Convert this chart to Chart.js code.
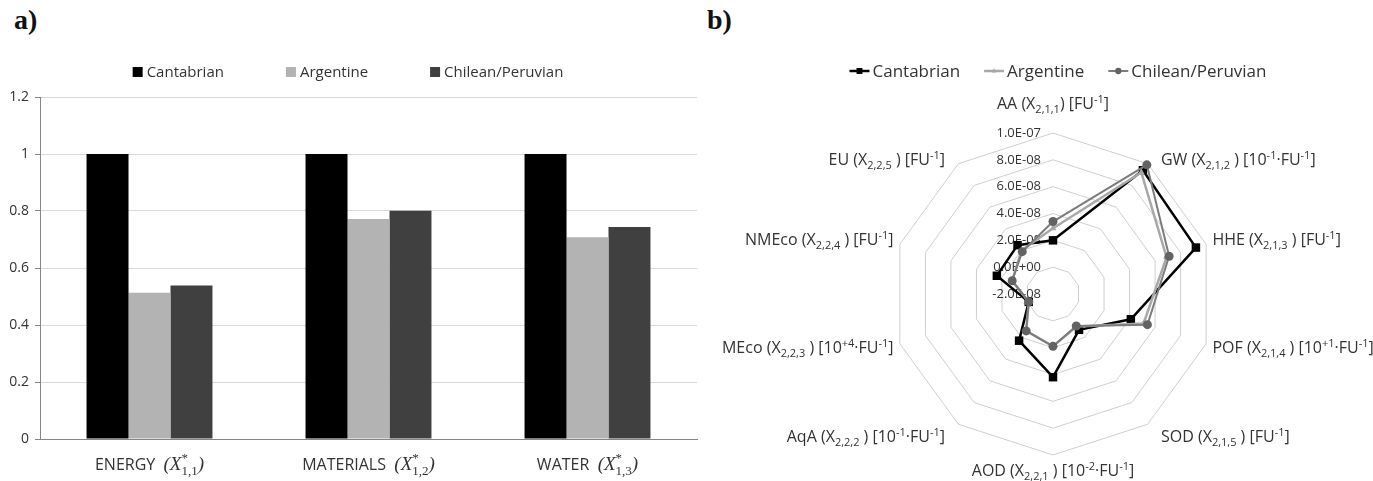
<!DOCTYPE html>
<html>
<head>
<meta charset="utf-8">
<script src="https://cdn.jsdelivr.net/npm/chart.js@4.4.0/dist/chart.umd.min.js"></script>
<style>
  html, body { margin: 0; padding: 0; background: #fff; }
  body { width: 1373px; height: 481px; position: relative; overflow: hidden; }
  canvas { position: absolute; top: 0; }
  #barChart { left: 0; }
  #radarChart { left: 700px; }
  .panel { position: absolute; top: 4px; font: bold 28px "Liberation Serif", serif; color: #111; }
</style>
</head>
<body>
<div class="panel" style="left:14px">a)</div>
<div class="panel" style="left:707px">b)</div>
<canvas id="barChart" width="700" height="481"></canvas>
<canvas id="radarChart" width="673" height="481"></canvas>
<script>
const seriesNames = ['Cantabrian', 'Argentine', 'Chilean/Peruvian'];

// a) normalised indicators
const barCategories = ['ENERGY', 'MATERIALS', 'WATER'];
const barSymbols = ['(X^{*}_{1,1})', '(X^{*}_{1,2})', '(X^{*}_{1,3})'];
const cantabrianBars = [1, 1, 1];
const argentineBars = [0.513, 0.772, 0.708];
const chileanBars = [0.539, 0.801, 0.744];
const barTicks = [0, 0.2, 0.4, 0.6, 0.8, 1, 1.2];

// b) impact categories
const radarAxes = [
  'AA (X_{2,1,1}) [FU^{-1}]',
  'GW (X_{2,1,2} ) [10^{-1}·FU^{-1}]',
  'HHE (X_{2,1,3} ) [FU^{-1}]',
  'POF (X_{2,1,4} ) [10^{+1}·FU^{-1}]',
  'SOD (X_{2,1,5} ) [FU^{-1}]',
  'AOD (X_{2,2,1} ) [10^{-2}·FU^{-1}]',
  'AqA (X_{2,2,2} ) [10^{-1}·FU^{-1}]',
  'MEco (X_{2,2,3} ) [10^{+4}·FU^{-1}]',
  'NMEco (X_{2,2,4} ) [FU^{-1}]',
  'EU (X_{2,2,5} ) [FU^{-1}]'
];
const cantabrianRadar = [2.0e-8, 9.4e-8, 9.2e-8, 4.1e-8, 1.3e-8, 4.2e-8, 2.3e-8, -0.1e-8, 2.4e-8, 2.5e-8];
const argentineRadar = [2.9e-8, 9.2e-8, 6.9e-8, 5.1e-8, 1.0e-8, 1.9e-8, 1.4e-8, -0.1e-8, 1.2e-8, 2.0e-8];
const chileanRadar = [3.4e-8, 9.9e-8, 7.1e-8, 5.4e-8, 0.95e-8, 1.9e-8, 1.4e-8, -0.1e-8, 1.2e-8, 1.9e-8];
const radarTicks = [-2e-8, 0, 2e-8, 4e-8, 6e-8, 8e-8, 1e-7];

const TEXT = '#333333';
Chart.defaults.font.family = '"Open Sans", sans-serif';

// tiny markup: _{..} subscript, ^{..} superscript
function parseRich(str) {
  const out = [];
  const re = /([_^])\{([^}]*)\}|([^_^]+)/g;
  let m;
  while ((m = re.exec(str))) {
    if (m[3]) out.push({ t: m[3], k: 'n' });
    else out.push({ t: m[2], k: m[1] === '_' ? 'sub' : 'sup' });
  }
  return out;
}

function renderRich(ctx, parts, x, y, f, draw) {
  let cx = x, stackX = x, stackW = 0;
  parts.forEach((p, i) => {
    ctx.font = p.k === 'n' ? f.main : f.small;
    const w = ctx.measureText(p.t).width;
    const stacked = p.k === 'sub' && i > 0 && parts[i - 1].k === 'sup';
    const sx = stacked ? stackX : cx;
    const dy = p.k === 'sub' ? f.subShift : p.k === 'sup' ? -f.supShift : 0;
    if (draw) ctx.fillText(p.t, sx, y + dy);
    if (p.k === 'sup') { stackX = cx; stackW = w; cx += w; }
    else if (stacked) cx = stackX + Math.max(stackW, w);
    else cx += w;
  });
  return cx - x;
}

function sci(v) {
  if (Math.abs(v) < 1e-15) v = 0;
  const [m, e] = v.toExponential(1).split('e');
  const n = parseInt(e, 10);
  return m + 'E' + (n < 0 ? '-' : '+') + String(Math.abs(n)).padStart(2, '0');
}

const sheetLegend = {
  id: 'sheetLegend',
  afterDraw(chart, args, opts) {
    const ctx = chart.ctx;
    const sets = chart.data.datasets;
    ctx.save();
    ctx.font = opts.font;
    ctx.textBaseline = 'middle';
    ctx.textAlign = 'left';
    const widths = sets.map(ds => ctx.measureText(ds.label).width);
    const total = widths.reduce((s, w) => s + opts.symbolWidth + opts.symbolGap + w, 0) + opts.itemGap * (sets.length - 1);
    let x = opts.centerX - total / 2;
    sets.forEach((ds, i) => {
      if (opts.symbol === 'box') {
        ctx.fillStyle = ds.backgroundColor;
        ctx.fillRect(x, opts.y - opts.symbolWidth / 2, opts.symbolWidth, opts.symbolWidth);
      } else {
        ctx.strokeStyle = ds.borderColor;
        ctx.lineWidth = ds.borderWidth;
        ctx.beginPath();
        ctx.moveTo(x, opts.y);
        ctx.lineTo(x + opts.symbolWidth, opts.y);
        ctx.stroke();
        ctx.fillStyle = ds.pointBackgroundColor;
        Chart.helpers.drawPoint(ctx, { pointStyle: ds.pointStyle, radius: ds.pointRadius * 0.7, rotation: 0, borderWidth: 0 },
          x + opts.symbolWidth / 2, opts.y);
      }
      x += opts.symbolWidth + opts.symbolGap;
      ctx.fillStyle = opts.color;
      ctx.fillText(ds.label, x, opts.y + 1);
      x += widths[i] + opts.itemGap;
    });
    ctx.restore();
  }
};

const barAxisLabels = {
  id: 'barAxisLabels',
  afterDraw(chart) {
    const ctx = chart.ctx;
    const xs = chart.scales.x;
    const mathFonts = { main: 'italic 19px "Liberation Serif"', small: '13px "Liberation Serif"', subShift: 5, supShift: 8 };
    ctx.save();
    ctx.textBaseline = 'alphabetic';
    ctx.textAlign = 'left';
    ctx.fillStyle = TEXT;
    barCategories.forEach((name, i) => {
      const cx = xs.getPixelForValue(i);
      ctx.font = '16px "Open Sans"';
      const head = name + '  ';
      const headW = ctx.measureText(head).width;
      const parts = parseRich(barSymbols[i]);
      const symW = renderRich(ctx, parts, 0, 0, mathFonts, false);
      const x = cx - (headW + symW) / 2;
      ctx.font = '16px "Open Sans"';
      ctx.fillText(head, x, 470);
      renderRich(ctx, parts, x + headW, 470, mathFonts, true);
    });
    ctx.restore();
  }
};

const radarText = {
  id: 'radarText',
  beforeDatasetsDraw(chart) {
    const ctx = chart.ctx;
    const r = chart.scales.r;
    ctx.save();
    ctx.font = '13px "Open Sans"';
    ctx.fillStyle = TEXT;
    ctx.textAlign = 'right';
    ctx.textBaseline = 'middle';
    r.ticks.forEach(t => {
      const y = r.yCenter - r.getDistanceFromCenterForValue(t.value);
      ctx.fillText(sci(t.value), r.xCenter - 12, y);
    });
    ctx.restore();
  },
  afterDraw(chart) {
    const ctx = chart.ctx;
    const r = chart.scales.r;
    const fonts = { main: '16px "Open Sans"', small: '11px "Open Sans"', subShift: 4, supShift: 6 };
    ctx.save();
    ctx.fillStyle = TEXT;
    ctx.textAlign = 'left';
    ctx.textBaseline = 'alphabetic';
    chart.data.labels.forEach((lab, i) => {
      const a = r.getIndexAngle(i);
      const s = Math.sin(a), c = Math.cos(a);
      const R = r.drawingArea;
      const vx = r.xCenter + s * R, vy = r.yCenter - c * R;
      const parts = parseRich(lab);
      const w = renderRich(ctx, parts, 0, 0, fonts, false);
      let x, y;
      if (Math.abs(s) < 0.01) {
        x = vx - w / 2;
        y = c > 0 ? vy - 29 : vy + 16;
      } else {
        const gap = 2 + 14 * Math.abs(c);
        x = s > 0 ? vx + gap : vx - gap - w;
        y = c > 0 ? vy - 4 : vy - c * 17 - 1;
      }
      renderRich(ctx, parts, x, y + 5, fonts, true);
    });
    ctx.restore();
  }
};

new Chart(document.getElementById('barChart'), {
  type: 'bar',
  data: {
    labels: barCategories,
    datasets: [
      { label: seriesNames[0], data: cantabrianBars, backgroundColor: '#000000' },
      { label: seriesNames[1], data: argentineBars, backgroundColor: '#b3b3b3' },
      { label: seriesNames[2], data: chileanBars, backgroundColor: '#404040' }
    ]
  },
  options: {
    responsive: false,
    animation: false,
    devicePixelRatio: 1,
    layout: { padding: { top: 97, right: 3, left: 0, bottom: 0 } },
    datasets: { bar: { barPercentage: 1, categoryPercentage: 0.575, borderWidth: 0 } },
    plugins: {
      legend: { display: false },
      tooltip: { enabled: false },
      sheetLegend: { symbol: 'box', font: '15px "Open Sans"', color: TEXT, centerX: 348, y: 72, symbolWidth: 10, symbolGap: 4, itemGap: 62 }
    },
    scales: {
      x: {
        grid: { display: false },
        border: { color: '#868686' },
        ticks: { display: false },
        afterFit: a => { a.height = 42; }
      },
      y: {
        min: 0,
        max: 1.2,
        afterBuildTicks: a => { a.ticks = barTicks.map(v => ({ value: v })); },
        grid: { color: '#d9d9d9', tickColor: '#868686', tickLength: 5 },
        border: { color: '#868686' },
        ticks: { color: TEXT, font: { size: 14 }, padding: 6, callback: v => String(+v.toFixed(1)) },
        afterFit: a => { a.width = 40; }
      }
    }
  },
  plugins: [sheetLegend, barAxisLabels]
});

new Chart(document.getElementById('radarChart'), {
  type: 'radar',
  data: {
    labels: radarAxes,
    datasets: [
      { label: seriesNames[0], data: cantabrianRadar, borderColor: '#000000', borderWidth: 2.5,
        pointStyle: 'rect', pointRadius: 6, pointBackgroundColor: '#000000', pointBorderColor: '#000000', pointBorderWidth: 0,
        fill: false, order: 2 },
      { label: seriesNames[1], data: argentineRadar, borderColor: '#a8a8a8', borderWidth: 2.5,
        pointStyle: 'triangle', pointRadius: 4, pointBackgroundColor: '#a8a8a8', pointBorderColor: '#a8a8a8', pointBorderWidth: 0,
        fill: false, order: 1 },
      { label: seriesNames[2], data: chileanRadar, borderColor: '#7c7c7c', borderWidth: 2,
        pointStyle: 'circle', pointRadius: 4.5, pointBackgroundColor: '#636363', pointBorderColor: '#636363', pointBorderWidth: 0,
        fill: false, order: 0 }
    ]
  },
  options: {
    responsive: false,
    animation: false,
    devicePixelRatio: 1,
    elements: { line: { tension: 0 } },
    plugins: {
      legend: { display: false },
      tooltip: { enabled: false },
      sheetLegend: { symbol: 'line', font: '17px "Open Sans"', color: TEXT, centerX: 358, y: 71, symbolWidth: 20, symbolGap: 3, itemGap: 24 }
    },
    scales: {
      r: {
        min: -2e-8,
        max: 1e-7,
        afterBuildTicks: a => { a.ticks = radarTicks.map(v => ({ value: v })); },
        angleLines: { display: false },
        grid: { color: '#cfcfcf', lineWidth: 1 },
        pointLabels: { display: false },
        ticks: { display: false },
        afterFit: s => { s.xCenter = 353; s.yCenter = 294; s.drawingArea = 161; }
      }
    }
  },
  plugins: [sheetLegend, radarText]
});
</script>
</body>
</html>
